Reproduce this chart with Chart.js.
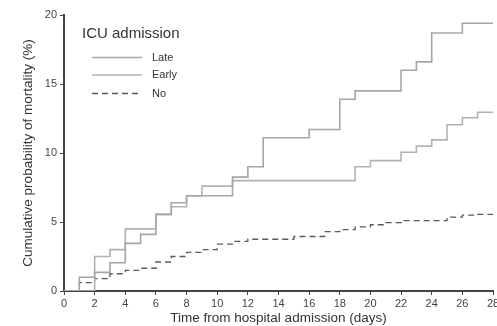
<!DOCTYPE html>
<html lang="en">
<head>
  <meta charset="UTF-8" />
  <title>ICU admission mortality</title>
  <script src="https://cdn.jsdelivr.net/npm/chart.js"></script>
  <style>
    body { margin: 0; background: #fff; }
    #wrap { width: 497px; height: 326px; }
  </style>
</head>
<body>
  <div id="wrap"><canvas id="chart"></canvas></div>
  <script>
    const days = [0,1,2,3,4,5,6,7,8,9,10,11,12,13,14,15,16,17,18,19,20,21,22,23,24,25,26,27,28];
    const late = [0,1.0,1.35,2.05,3.45,4.1,5.55,6.4,6.9,6.9,6.9,8.25,9.0,11.1,11.1,11.1,11.7,11.7,13.9,14.5,14.5,14.5,16.0,16.6,18.7,18.7,19.4,19.4,19.4];
    const early = [0,0,2.5,3.0,4.5,4.5,5.55,6.1,6.9,7.6,7.6,8.0,8.0,8.0,8.0,8.0,8.0,8.0,8.0,9.0,9.45,9.45,10.05,10.5,10.95,12.05,12.55,12.95,12.95];
    const noIcu = [0,0.6,0.9,1.25,1.5,1.65,2.1,2.5,2.8,3.0,3.4,3.6,3.75,3.75,3.75,3.95,3.95,4.3,4.45,4.65,4.8,4.95,5.1,5.1,5.1,5.35,5.5,5.55,5.6];
    const seriesNames = ['Late', 'Early', 'No'];
    const xTicks = [0,2,4,6,8,10,12,14,16,18,20,22,24,26,28];
    const yTicks = [0,5,10,15,20];

    const font = 'Liberation Sans, Arial, sans-serif';
    const pts = arr => days.map((d, i) => ({ x: d, y: arr[i] }));

    const legendBox = {
      id: 'legendBox',
      afterDraw(chart) {
        const c = chart.ctx;
        c.save();
        c.fillStyle = '#333';
        c.textBaseline = 'middle';
        c.font = '15px ' + font;
        c.fillText('ICU admission', 82, 34);
        c.font = '11px ' + font;
        const ys = [57.5, 75, 93.5];
        chart.data.datasets.forEach((ds, i) => {
          c.strokeStyle = ds.borderColor;
          c.lineWidth = ds.borderWidth;
          c.setLineDash(ds.borderDash || []);
          c.beginPath();
          c.moveTo(92, ys[i]);
          c.lineTo(142, ys[i]);
          c.stroke();
          c.setLineDash([]);
          c.fillText(ds.label, 152, ys[i]);
        });
        c.restore();
      }
    };

    new Chart(document.getElementById('chart'), {
      type: 'line',
      data: {
        datasets: [
          { label: seriesNames[0], data: pts(late), borderColor: '#a6a6a6', borderWidth: 1.6, stepped: true, pointRadius: 0 },
          { label: seriesNames[1], data: pts(early), borderColor: '#b2b2b2', borderWidth: 1.6, stepped: true, pointRadius: 0 },
          { label: seriesNames[2], data: pts(noIcu), borderColor: '#5a5a5a', borderWidth: 1.3, borderDash: [6, 4], stepped: true, pointRadius: 0 }
        ]
      },
      options: {
        responsive: true,
        maintainAspectRatio: false,
        animation: false,
        layout: { padding: { top: 15, right: 0, left: 0, bottom: 0 } },
        plugins: { legend: { display: false }, tooltip: { enabled: false } },
        scales: {
          x: {
            type: 'linear', min: 0, max: 28,
            afterBuildTicks: s => { s.ticks = xTicks.map(v => ({ value: v })); },
            afterFit: s => { s.height = 35; s.paddingRight = 4; },
            ticks: { color: '#444', font: { family: font, size: 11 }, padding: 2, maxRotation: 0, autoSkip: false },
            grid: { drawOnChartArea: false, drawTicks: true, tickLength: 4, color: '#444' },
            border: { color: '#444', width: 2 },
            title: { display: true, text: 'Time from hospital admission (days)', color: '#333', font: { family: font, size: 13.5 }, padding: { top: 0, bottom: 0 } }
          },
          y: {
            min: 0, max: 20,
            afterBuildTicks: s => { s.ticks = yTicks.map(v => ({ value: v })); },
            afterFit: s => { s.width = 64; },
            ticks: { color: '#444', font: { family: font, size: 11 }, padding: 3 },
            grid: { drawOnChartArea: false, drawTicks: true, tickLength: 4, color: '#444' },
            border: { color: '#444', width: 2 },
            title: { display: true, text: 'Cumulative probability of mortality (%)', color: '#333', font: { family: font, size: 13.5 }, padding: { top: 20, bottom: 0 } }
          }
        }
      },
      plugins: [legendBox]
    });
  </script>
</body>
</html>
